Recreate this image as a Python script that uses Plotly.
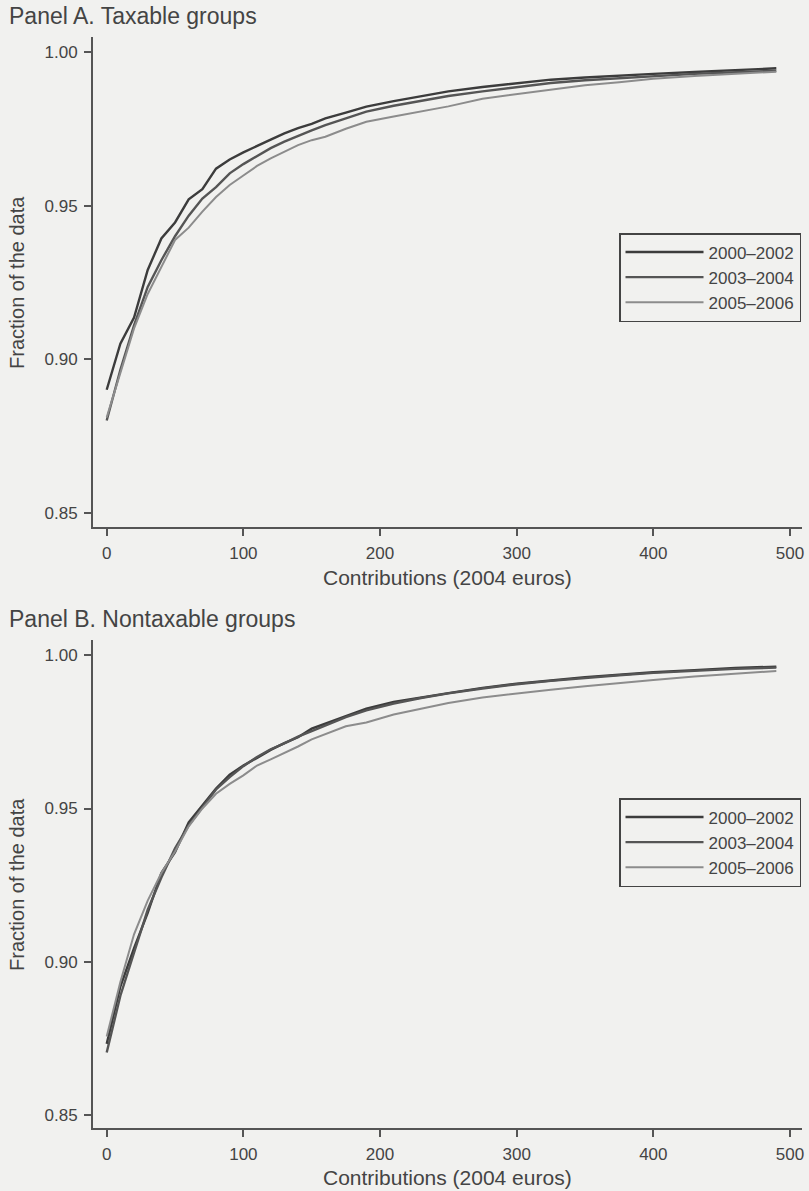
import plotly.graph_objects as go

# ---- data ----
contributions = [0, 10, 20, 30, 40, 50, 60, 70, 80, 90, 100, 110, 120, 130, 140, 150,
                 160, 175, 190, 210, 230, 250, 275, 300, 325, 350, 375, 400, 430, 460, 490]

series_labels = ["2000–2002", "2003–2004", "2005–2006"]

taxable_2000_2002 = [0.890, 0.905, 0.9135, 0.929, 0.9393, 0.9445, 0.952, 0.9553, 0.962, 0.965,
                     0.9673, 0.9695, 0.9715, 0.9735, 0.9752, 0.9766, 0.9784, 0.9803, 0.9822,
                     0.9840, 0.9857, 0.9872, 0.9886, 0.9898, 0.9910, 0.9917, 0.9924, 0.9929,
                     0.9935, 0.9941, 0.9947]
taxable_2003_2004 = [0.880, 0.8965, 0.911, 0.9235, 0.9322, 0.940, 0.9467, 0.9523, 0.9560, 0.9605,
                     0.9635, 0.9662, 0.9687, 0.9708, 0.9727, 0.9745, 0.9762, 0.9785, 0.9806,
                     0.9825, 0.9840, 0.9857, 0.9872, 0.9885, 0.9899, 0.9908, 0.9915, 0.9923,
                     0.9929, 0.9934, 0.9939]
taxable_2005_2006 = [0.881, 0.8955, 0.910, 0.9212, 0.9301, 0.9388, 0.9428, 0.948, 0.9528, 0.9567,
                     0.9598, 0.9629, 0.9654, 0.9676, 0.9697, 0.9713, 0.9724, 0.9750, 0.9773,
                     0.9790, 0.9807, 0.9823, 0.9848, 0.9862, 0.9878, 0.9892, 0.9902, 0.9913,
                     0.9922, 0.9929, 0.9936]

nontaxable_2000_2002 = [0.8733, 0.892, 0.9045, 0.916, 0.929, 0.9358, 0.9455, 0.951, 0.9565, 0.961,
                        0.964, 0.9665, 0.9691, 0.9713, 0.9732, 0.9760, 0.9776, 0.9800, 0.9825,
                        0.9847, 0.9862, 0.9876, 0.9893, 0.9907, 0.9917, 0.9928, 0.9936, 0.9944,
                        0.9951, 0.9958, 0.9962]
nontaxable_2003_2004 = [0.8705, 0.889, 0.903, 0.917, 0.9275, 0.937, 0.9445, 0.9505, 0.9562, 0.9602,
                        0.9638, 0.9668, 0.9693, 0.9712, 0.9734, 0.9752, 0.9770, 0.9798, 0.9820,
                        0.9842, 0.9860, 0.9875, 0.9891, 0.9905, 0.9916, 0.9926, 0.9934, 0.9942,
                        0.9949, 0.9955, 0.9959]
nontaxable_2005_2006 = [0.8757, 0.8935, 0.909, 0.920, 0.929, 0.936, 0.9442, 0.950, 0.9548, 0.958,
                        0.9608, 0.9640, 0.9660, 0.9680, 0.9702, 0.9725, 0.9742, 0.9768, 0.9780,
                        0.9806, 0.9825, 0.9844, 0.9862, 0.9875, 0.9887, 0.9898, 0.9909, 0.9919,
                        0.9930, 0.9940, 0.9948]

x_ticks = [0, 100, 200, 300, 400, 500]
y_ticks = [0.85, 0.90, 0.95, 1.00]

panel_titles = ["Panel A. Taxable groups", "Panel B. Nontaxable groups"]
x_title = "Contributions (2004 euros)"
y_title = "Fraction of the data"

# ---- styling ----
W, H = 809, 1191
BG = "#f1f1ef"
INK = "#444444"
FONT = "Liberation Sans, Arial, Helvetica, sans-serif"
line_colors = ["#3c3c3c", "#555555", "#8c8c8c"]
line_widths = [2.4, 2.4, 2.0]

fig = go.Figure()

panels = [
    ("x", "y", "legend", [taxable_2000_2002, taxable_2003_2004, taxable_2005_2006]),
    ("x2", "y2", "legend2", [nontaxable_2000_2002, nontaxable_2003_2004, nontaxable_2005_2006]),
]
for xa, ya, lg, series in panels:
    for label, vals, col, lw in zip(series_labels, series, line_colors, line_widths):
        fig.add_trace(go.Scatter(
            x=contributions, y=vals, mode="lines", name=label,
            line=dict(color=col, width=lw), xaxis=xa, yaxis=ya, legend=lg,
        ))

def px_x(p):
    return p / W

def px_y(p):
    return 1 - p / H

axis_common = dict(
    showline=True, linecolor="#555555", linewidth=1.5,
    ticks="outside", ticklen=7, tickwidth=1.5, tickcolor="#555555",
    showgrid=False, zeroline=False, ticklabelstandoff=3,
    tickfont=dict(family=FONT, size=17, color=INK),
)

x_dom = [px_x(93), px_x(804)]
legend_common = dict(
    xanchor="right", yanchor="top",
    bgcolor=BG, bordercolor="#444444", borderwidth=1.5,
    font=dict(family=FONT, size=17, color=INK), itemwidth=78,
    tracegroupgap=0,
)
fig.update_layout(
    width=W, height=H,
    margin=dict(l=0, r=0, t=0, b=0),
    paper_bgcolor=BG, plot_bgcolor=BG,
    font=dict(family=FONT, color=INK),
    xaxis=dict(domain=x_dom, range=[-10.2, 508.8], tickvals=x_ticks, anchor="y", **axis_common),
    yaxis=dict(domain=[px_y(527), px_y(37)], range=[0.8453, 1.0049], tickvals=y_ticks,
               tickformat=".2f", anchor="x", **axis_common),
    xaxis2=dict(domain=x_dom, range=[-10.2, 508.8], tickvals=x_ticks, anchor="y2", **axis_common),
    yaxis2=dict(domain=[px_y(1128), px_y(640)], range=[0.8459, 1.0049], tickvals=y_ticks,
                tickformat=".2f", anchor="x2", **axis_common),
    legend=dict(x=px_x(803), y=px_y(233), **legend_common),
    legend2=dict(x=px_x(803), y=px_y(798), **legend_common),
    showlegend=True,
)

annotations = []
for title, ty in zip(panel_titles, [16, 619]):
    annotations.append(dict(
        text=title, x=px_x(7), y=px_y(ty), xref="paper", yref="paper",
        xanchor="left", yanchor="middle", showarrow=False,
        font=dict(family=FONT, size=23, color=INK),
    ))
for ty in [577, 1177]:
    annotations.append(dict(
        text=x_title, x=(x_dom[0] + x_dom[1]) / 2, y=px_y(ty), xref="paper", yref="paper",
        xanchor="center", yanchor="middle", showarrow=False,
        font=dict(family=FONT, size=21, color=INK),
    ))
for ty in [282, 884]:
    annotations.append(dict(
        text=y_title, x=px_x(17), y=px_y(ty), xref="paper", yref="paper",
        xanchor="center", yanchor="middle", showarrow=False, textangle=-90,
        font=dict(family=FONT, size=20, color=INK),
    ))
fig.update_layout(annotations=annotations)

fig.write_html(
    "out.html",
    config={"displayModeBar": False},
    post_script="document.body.style.margin='0';document.body.style.overflow='hidden';"
                "document.body.style.background='" + BG + "';",
)
